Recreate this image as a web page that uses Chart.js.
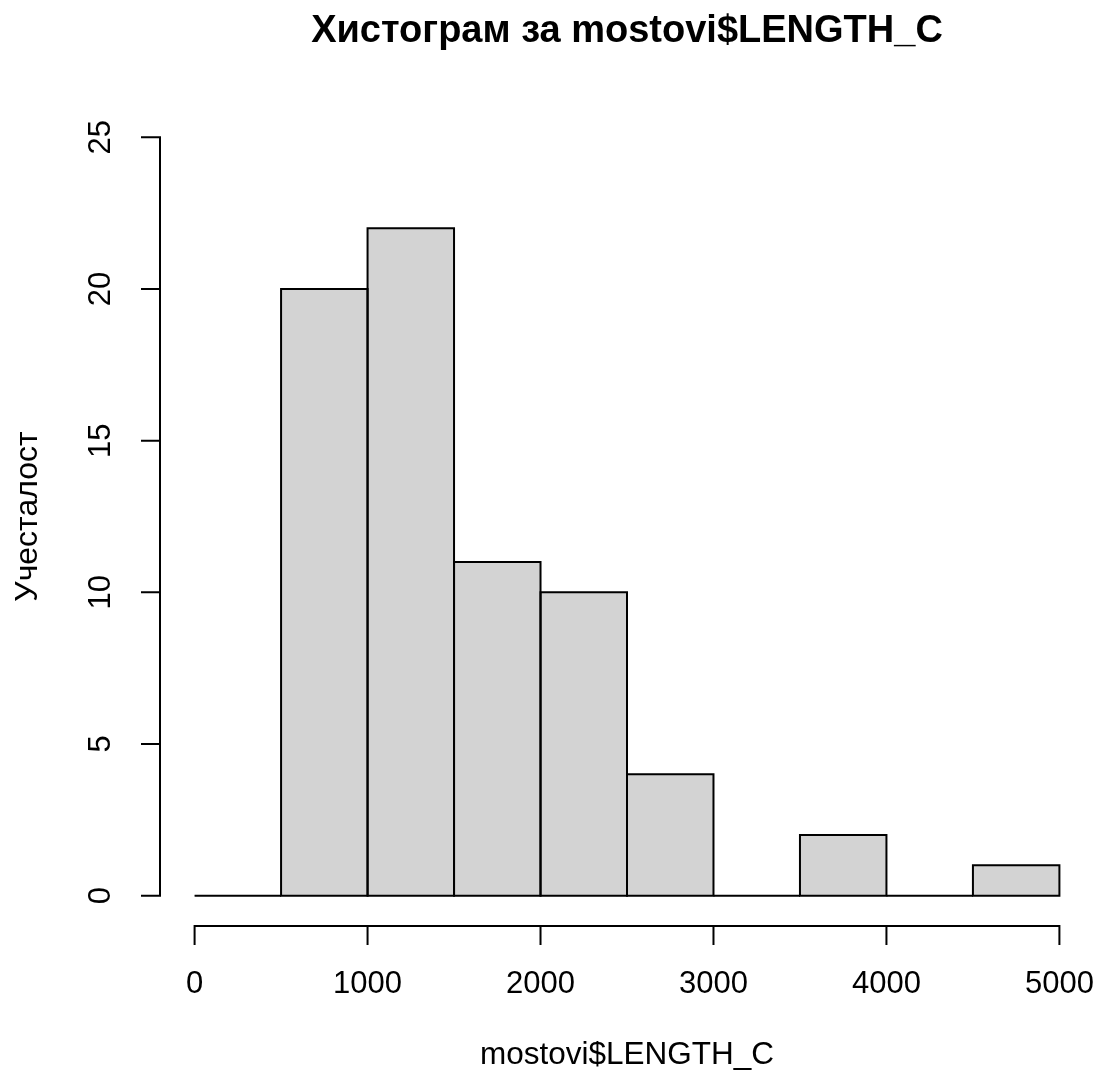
<!DOCTYPE html>
<html>
<head>
<meta charset="utf-8">
<script src="https://cdn.jsdelivr.net/npm/chart.js@4/dist/chart.umd.min.js"></script>
<style>
    html, body { margin: 0; padding: 0; background: #fff; }
    #histChart { display: block; }
</style>
</head>
<body>
<canvas id="histChart" width="1097" height="1077"></canvas>
<script>
// 直方图数据（区间宽度 500）
const binStarts = [0, 500, 1000, 1500, 2000, 2500, 3000, 3500, 4000, 4500];
const binWidth = 500;
const counts = [0, 20, 22, 11, 10, 4, 0, 2, 0, 1];

// 坐标轴刻度
const xTicks = [0, 1000, 2000, 3000, 4000, 5000];
const yTicks = [0, 5, 10, 15, 20, 25];

// 文字
const chartTitle = 'Хистограм за mostovi$LENGTH_C';
const xTitle = 'mostovi$LENGTH_C';
const yTitle = 'Учесталост';

const fontFamily = '"Liberation Sans", Arial, Helvetica, sans-serif';

// R 风格坐标轴：轴线只覆盖刻度范围，与绘图区分离
const rAxesPlugin = {
    id: 'rAxes',
    afterDatasetsDraw(chart) {
        const ctx = chart.ctx;
        const meta = chart.getDatasetMeta(0);
        ctx.save();
        ctx.strokeStyle = '#000';
        ctx.lineWidth = 2;
        ctx.lineJoin = 'miter';
        meta.data.forEach(bar => {
            const p = bar.getProps(['x', 'y', 'base', 'width'], true);
            const left = p.x - p.width / 2;
            const right = p.x + p.width / 2;
            ctx.beginPath();
            if (Math.abs(p.base - p.y) < 0.5) {
                // 计数为 0 的区间只画底线
                ctx.moveTo(left, p.base);
                ctx.lineTo(right, p.base);
            } else {
                ctx.rect(left, p.y, p.width, p.base - p.y);
            }
            ctx.stroke();
        });
        ctx.restore();
    },
    afterDraw(chart) {
        const ctx = chart.ctx;
        const area = chart.chartArea;
        const xs = chart.scales.x;
        const ys = chart.scales.y;
        const tickLen = 19;

        ctx.save();
        ctx.strokeStyle = '#000';
        ctx.fillStyle = '#000';
        ctx.lineWidth = 2;
        ctx.lineCap = 'butt';

        // x 轴
        const axY = area.bottom;
        ctx.beginPath();
        ctx.moveTo(xs.getPixelForValue(xTicks[0]), axY);
        ctx.lineTo(xs.getPixelForValue(xTicks[xTicks.length - 1]), axY);
        xs.ticks.forEach(t => {
            const px = xs.getPixelForValue(t.value);
            ctx.moveTo(px, axY - 1);
            ctx.lineTo(px, axY + tickLen);
        });
        ctx.stroke();

        ctx.font = '31px ' + fontFamily;
        ctx.textAlign = 'center';
        ctx.textBaseline = 'middle';
        xs.ticks.forEach(t => {
            ctx.fillText(String(t.value), xs.getPixelForValue(t.value), axY + 58);
        });

        // y 轴
        const axX = area.left;
        ctx.beginPath();
        ctx.moveTo(axX, ys.getPixelForValue(yTicks[0]));
        ctx.lineTo(axX, ys.getPixelForValue(yTicks[yTicks.length - 1]));
        ys.ticks.forEach(t => {
            const py = ys.getPixelForValue(t.value);
            ctx.moveTo(axX + 1, py);
            ctx.lineTo(axX - tickLen, py);
        });
        ctx.stroke();

        ys.ticks.forEach(t => {
            ctx.save();
            ctx.translate(axX - 59, ys.getPixelForValue(t.value));
            ctx.rotate(-Math.PI / 2);
            ctx.fillText(String(t.value), 0, 0);
            ctx.restore();
        });

        // 标题
        const cx = (area.left + area.right) / 2;
        ctx.font = 'bold 38px ' + fontFamily;
        ctx.fillText(chartTitle, cx, 32);

        ctx.font = '31.5px ' + fontFamily;
        ctx.fillText(xTitle, cx, 1055);

        ctx.font = '32px ' + fontFamily;
        ctx.save();
        ctx.translate(28, (area.top + area.bottom) / 2);
        ctx.rotate(-Math.PI / 2);
        ctx.fillText(yTitle, 0, 0);
        ctx.restore();

        ctx.restore();
    }
};

window.initializeHistChart = function() {
    const el = document.getElementById('histChart');
    if (!el) {
        console.error('找不到 histChart 元素');
        return;
    }

    const barData = binStarts.map((s, i) => ({ x: s + binWidth / 2, y: counts[i] }));

    new Chart(el.getContext('2d'), {
        type: 'bar',
        data: {
            datasets: [{
                data: barData,
                backgroundColor: '#d3d3d3',
                borderWidth: 0,
                barPercentage: 1,
                categoryPercentage: 1
            }]
        },
        options: {
            responsive: false,
            animation: false,
            layout: {
                padding: { left: 160, right: 3, top: 107, bottom: 151 }
            },
            plugins: {
                legend: { display: false },
                tooltip: { enabled: false },
                title: { display: false }
            },
            scales: {
                x: {
                    type: 'linear',
                    display: false,
                    offset: false,
                    min: -200,
                    max: 5200,
                    afterBuildTicks: axis => {
                        axis.ticks = xTicks.map(v => ({ value: v }));
                    }
                },
                y: {
                    display: false,
                    min: -1,
                    max: 26,
                    afterBuildTicks: axis => {
                        axis.ticks = yTicks.map(v => ({ value: v }));
                    }
                }
            }
        },
        plugins: [rAxesPlugin]
    });
};

window.initializeHistChart();
</script>
</body>
</html>
